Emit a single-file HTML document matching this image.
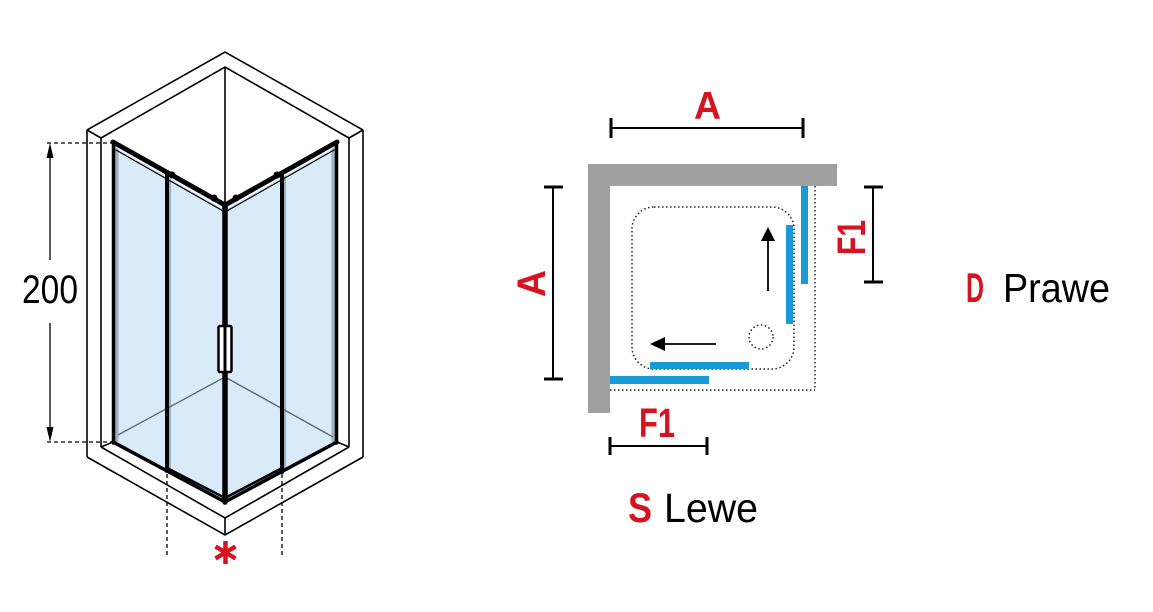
<!DOCTYPE html>
<html>
<head>
<meta charset="utf-8">
<style>
  html,body{margin:0;padding:0;background:#fff;}
  body{width:1153px;height:612px;overflow:hidden;}
  svg{display:block;}
  text{font-family:"Liberation Sans",sans-serif;}
</style>
</head>
<body>
<svg width="1153" height="612" viewBox="0 0 1153 612" xmlns="http://www.w3.org/2000/svg">
  <rect width="1153" height="612" fill="#fff"/>

  <!-- ============ LEFT: isometric shower ============ -->
  <g fill="none" stroke="#000" stroke-width="1.6" stroke-linejoin="miter">
    <polyline points="87,130 225,52 363,130"/>
    <polyline points="101,138 225,67 349,138"/>
    <line x1="87" y1="130" x2="101" y2="138"/>
    <line x1="363" y1="130" x2="349" y2="138"/>
    <line x1="87" y1="130" x2="87" y2="457"/>
    <line x1="101" y1="138" x2="101" y2="447"/>
    <line x1="363" y1="130" x2="363" y2="457"/>
    <line x1="349" y1="138" x2="349" y2="447"/>
    <polyline points="87,457 225,535 363,457"/>
    <polyline points="101,447 225,518 349,447"/>
    <line x1="225" y1="518" x2="225" y2="535"/>
    <line x1="101" y1="447" x2="113" y2="442"/>
    <line x1="349" y1="447" x2="337" y2="442"/>
    <line x1="225" y1="67" x2="225" y2="205"/>
  </g>

  <!-- glass -->
  <polygon points="115,145 225,207 225,502 115,442" fill="#d9eaf8"/>
  <polygon points="225,207 335,145 335,442 225,502" fill="#d9eaf8"/>
  <rect x="115" y="146" width="3.5" height="296" fill="#9db0c0"/>
  <rect x="331.5" y="146" width="3.5" height="296" fill="#9db0c0"/>
  <rect x="169" y="175" width="2" height="296" fill="#9db0c0"/>
  <rect x="284" y="175" width="2" height="296" fill="#9db0c0"/>

  <polyline points="118,435 225,377 333,437" fill="none" stroke="#5f6b76" stroke-width="1.4"/>

  <!-- frames -->
  <g stroke="#000" fill="none" stroke-linecap="round">
    <line x1="113.5" y1="142" x2="113.5" y2="443" stroke-width="3.5"/>
    <line x1="336.5" y1="142" x2="336.5" y2="443" stroke-width="3.5"/>
    <polyline points="113,142 225,205 337,142" stroke-width="5" stroke-linejoin="round"/>
    <polyline points="116,147 225,209 334,147" stroke="#fff" stroke-width="1"/>
    <polyline points="116,150 225,212 334,150" stroke-width="1.2"/>
    <line x1="167" y1="172" x2="167" y2="471" stroke-width="4"/>
    <line x1="282" y1="173" x2="282" y2="472" stroke-width="4"/>
    <line x1="225" y1="205" x2="225" y2="502" stroke-width="5.5"/>
    <polyline points="113,442 225,502 337,442" stroke-width="3.5" stroke-linejoin="round"/>
    <polyline points="167,468 225,498 282,468" stroke-width="2.5"/>
    <circle cx="172" cy="175" r="3" fill="#000"/>
    <circle cx="214" cy="198" r="3" fill="#000"/>
    <circle cx="236" cy="198" r="3" fill="#000"/>
    <circle cx="277" cy="175" r="3" fill="#000"/>
  </g>
  <!-- handle -->
  <rect x="218.5" y="326" width="13" height="46" rx="1.5" fill="#fff" stroke="#000" stroke-width="2.5"/>
  <line x1="225" y1="322" x2="225" y2="376" stroke="#000" stroke-width="3"/>

  <!-- dimension 200 -->
  <g stroke="#000" stroke-width="1.3" fill="none">
    <line x1="47" y1="143" x2="112" y2="143" stroke-dasharray="4 3"/>
    <line x1="47" y1="442" x2="112" y2="442" stroke-dasharray="4 3"/>
    <line x1="50" y1="156" x2="50" y2="260"/>
    <line x1="50" y1="323" x2="50" y2="429"/>
    <line x1="167" y1="474" x2="167" y2="558" stroke-dasharray="4 3"/>
    <line x1="282" y1="474" x2="282" y2="558" stroke-dasharray="4 3"/>
  </g>
  <polygon points="50,143 46.5,158 53.5,158" fill="#000"/>
  <polygon points="50,442 46.5,427 53.5,427" fill="#000"/>
  <text x="22" y="303" font-size="40" textLength="56" lengthAdjust="spacingAndGlyphs" fill="#000">200</text>

  <!-- red asterisk -->
  <g stroke="#d6141f" stroke-width="4.5" stroke-linecap="butt">
    <line x1="225.5" y1="541" x2="225.5" y2="564"/>
    <line x1="215.5" y1="546.5" x2="235.5" y2="558.5"/>
    <line x1="215.5" y1="558.5" x2="235.5" y2="546.5"/>
  </g>

  <!-- ============ RIGHT: plan view ============ -->
  <g stroke="#000" fill="none">
    <line x1="611" y1="128" x2="803" y2="128" stroke-width="2"/>
    <line x1="611" y1="118" x2="611" y2="138" stroke-width="3"/>
    <line x1="803" y1="118" x2="803" y2="138" stroke-width="3"/>
    <line x1="553" y1="187" x2="553" y2="379" stroke-width="2"/>
    <line x1="544" y1="187" x2="563" y2="187" stroke-width="3"/>
    <line x1="544" y1="379" x2="563" y2="379" stroke-width="3"/>
    <line x1="873" y1="187" x2="873" y2="282" stroke-width="2"/>
    <line x1="864" y1="187" x2="883" y2="187" stroke-width="3"/>
    <line x1="864" y1="282" x2="883" y2="282" stroke-width="3"/>
    <line x1="610" y1="446" x2="707" y2="446" stroke-width="2"/>
    <line x1="610" y1="437" x2="610" y2="455" stroke-width="3"/>
    <line x1="707" y1="437" x2="707" y2="455" stroke-width="3"/>
  </g>

  <!-- dotted outlines -->
  <g fill="none" stroke="#222" stroke-width="1.5" stroke-dasharray="1.5 2.5">
    <line x1="815" y1="186" x2="815" y2="390"/>
    <line x1="610" y1="390" x2="815" y2="390"/>
    <rect x="632" y="207" width="162" height="162" rx="22"/>
    <circle cx="761" cy="337" r="12"/>
  </g>

  <!-- gray wall L -->
  <rect x="588" y="164" width="249" height="22" fill="#a0a0a0"/>
  <rect x="588" y="164" width="22" height="249" fill="#a0a0a0"/>

  <!-- blue panels -->
  <g fill="#189ad6">
    <rect x="801" y="186" width="7" height="98"/>
    <rect x="786" y="225" width="7" height="99"/>
    <rect x="650" y="362" width="99" height="7"/>
    <rect x="610" y="376" width="99" height="8"/>
  </g>

  <!-- arrows -->
  <line x1="768" y1="291" x2="768" y2="239" stroke="#000" stroke-width="1.8"/>
  <polygon points="768,227 761,241 775,241" fill="#000"/>
  <line x1="716" y1="344" x2="663" y2="344" stroke="#000" stroke-width="1.8"/>
  <polygon points="650,344 665,337 665,351" fill="#000"/>

  <!-- labels -->
  <g font-weight="bold" fill="#d6141f">
    <text x="707.5" y="119" font-size="39" text-anchor="middle" textLength="27" lengthAdjust="spacingAndGlyphs">A</text>
    <text transform="translate(545,283.5) rotate(-90)" x="0" y="0" font-size="40" text-anchor="middle" textLength="27" lengthAdjust="spacingAndGlyphs">A</text>
    <text transform="translate(865,237.5) rotate(-90)" x="0" y="0" font-size="40" text-anchor="middle" textLength="35" lengthAdjust="spacingAndGlyphs">F1</text>
    <text x="657" y="437" font-size="41" text-anchor="middle" textLength="36" lengthAdjust="spacingAndGlyphs">F1</text>
    <text x="628" y="522" font-size="42" textLength="24" lengthAdjust="spacingAndGlyphs">S</text>
    <text x="966" y="302" font-size="42" textLength="18" lengthAdjust="spacingAndGlyphs">D</text>
  </g>
  <g fill="#000">
    <text x="664" y="522" font-size="41" textLength="94" lengthAdjust="spacingAndGlyphs">Lewe</text>
    <text x="1003" y="302" font-size="41" textLength="107" lengthAdjust="spacingAndGlyphs">Prawe</text>
  </g>
</svg>
</body>
</html>
